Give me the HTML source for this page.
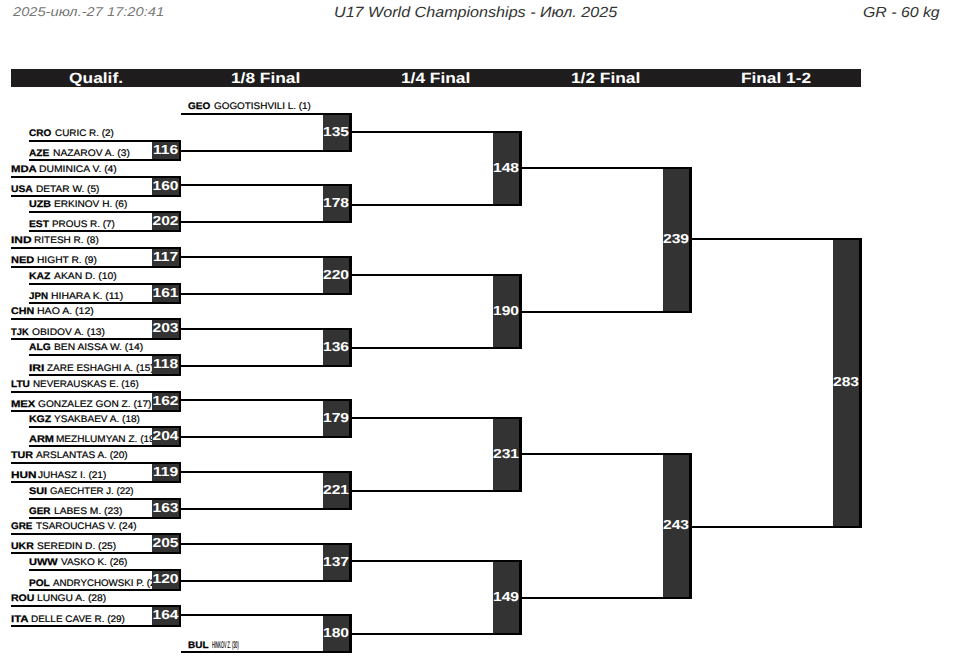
<!DOCTYPE html>
<html><head><meta charset="utf-8"><style>
html,body{margin:0;padding:0;background:#fff;}
body{width:957px;height:668px;position:relative;overflow:hidden;font-family:"Liberation Sans",sans-serif;text-rendering:geometricPrecision;}
.t{position:absolute;white-space:nowrap;font-style:italic;transform-origin:0 0;}
.bar{position:absolute;left:11px;top:69px;width:850px;height:18px;background:#1e1c1c;}
.hd{position:absolute;top:70px;height:18px;line-height:18px;color:#fff;font-weight:bold;font-size:14.8px;text-align:center;width:170px;}
.hd span{display:inline-block;transform:scaleX(1.17);}
.ln{position:absolute;height:2px;background:#000;}
.nm{position:absolute;white-space:nowrap;font-size:9.5px;line-height:14px;color:#111;transform-origin:0 0;}
.cd{font-weight:bold;color:#000;-webkit-text-stroke:0.25px #000;}
.nn{-webkit-text-stroke:0.2px #000;color:#000;}
.bx{position:absolute;background:#333;box-sizing:border-box;border-right:2px solid #000;}
.num{position:absolute;text-align:center;color:#fff;font-weight:bold;font-size:13px;line-height:16px;}
.num{transform:scaleX(1.2);}
</style></head><body>
<div class="t" style="left:13px;top:4px;font-size:12.8px;line-height:15px;color:#777;transform:scaleX(1.146)">2025-июл.-27 17:20:41</div>
<div class="t" style="left:334px;top:5px;font-size:14.8px;line-height:17px;color:#333;transform:scaleX(1.089)">U17 World Championships - Июл. 2025</div>
<div class="t" style="left:863px;top:5px;font-size:14.5px;line-height:17px;color:#333;transform:scaleX(1.094)">GR - 60 kg</div>
<div class="bar"></div>
<div class="hd" style="left:11px"><span>Qualif.</span></div>
<div class="hd" style="left:181px"><span>1/8 Final</span></div>
<div class="hd" style="left:351px"><span>1/4 Final</span></div>
<div class="hd" style="left:521px"><span>1/2 Final</span></div>
<div class="hd" style="left:691px"><span>Final 1-2</span></div>
<div class="nm cd" style="left:29px;top:127px;transform:scaleX(1.0512)">CRO</div>
<div class="nm nn" style="left:54.67px;top:127px;transform:scaleX(1.0394)">CURIC R. (2)</div>
<div class="nm cd" style="left:29px;top:147px;transform:scaleX(1.0653)">AZE</div>
<div class="nm nn" style="left:53.04px;top:147px;transform:scaleX(1.0785)">NAZAROV A. (3)</div>
<div class="nm cd" style="left:11px;top:163px;transform:scaleX(1.1909)">MDA</div>
<div class="nm nn" style="left:39.00px;top:163px;transform:scaleX(1.0889)">DUMINICA V. (4)</div>
<div class="nm cd" style="left:11px;top:183px;transform:scaleX(1.0855)">USA</div>
<div class="nm nn" style="left:36.22px;top:183px;transform:scaleX(1.0662)">DETAR W. (5)</div>
<div class="nm cd" style="left:29px;top:198px;transform:scaleX(1.1286)">UZB</div>
<div class="nm nn" style="left:54.15px;top:198px;transform:scaleX(1.0603)">ERKINOV H. (6)</div>
<div class="nm cd" style="left:29px;top:218px;transform:scaleX(1.0788)">EST</div>
<div class="nm nn" style="left:52.12px;top:218px;transform:scaleX(1.0450)">PROUS R. (7)</div>
<div class="nm cd" style="left:11px;top:234px;transform:scaleX(1.2557)">IND</div>
<div class="nm nn" style="left:33.68px;top:234px;transform:scaleX(1.0571)">RITESH R. (8)</div>
<div class="nm cd" style="left:11px;top:254px;transform:scaleX(1.1545)">NED</div>
<div class="nm nn" style="left:36.63px;top:254px;transform:scaleX(1.0748)">HIGHT R. (9)</div>
<div class="nm cd" style="left:29px;top:270px;transform:scaleX(1.0908)">KAZ</div>
<div class="nm nn" style="left:53.91px;top:270px;transform:scaleX(1.0890)">AKAN D. (10)</div>
<div class="nm cd" style="left:29px;top:290px;transform:scaleX(1.0249)">JPN</div>
<div class="nm nn" style="left:50.75px;top:290px;transform:scaleX(1.0956)">HIHARA K. (11)</div>
<div class="nm cd" style="left:11px;top:305px;transform:scaleX(1.1239)">CHN</div>
<div class="nm nn" style="left:37.18px;top:305px;transform:scaleX(1.1089)">HAO A. (12)</div>
<div class="nm cd" style="left:11px;top:326px;transform:scaleX(0.9828)">TJK</div>
<div class="nm nn" style="left:31.68px;top:326px;transform:scaleX(1.0797)">OBIDOV A. (13)</div>
<div class="nm cd" style="left:29px;top:341px;transform:scaleX(1.0804)">ALG</div>
<div class="nm nn" style="left:53.51px;top:341px;transform:scaleX(1.0812)">BEN AISSA W. (14)</div>
<div class="nm cd" style="left:29px;top:362px;transform:scaleX(1.2746)">IRI</div>
<div class="nm nn" style="left:46.69px;top:362px;transform:scaleX(1.0528)">ZARE ESHAGHI A. (15)</div>
<div class="nm cd" style="left:11px;top:378px;transform:scaleX(1.0608)">LTU</div>
<div class="nm nn" style="left:32.98px;top:378px;transform:scaleX(1.0330)">NEVERAUSKAS E. (16)</div>
<div class="nm cd" style="left:11px;top:398px;transform:scaleX(1.1837)">MEX</div>
<div class="nm nn" style="left:37.58px;top:398px;transform:scaleX(1.0697)">GONZALEZ GON Z. (17)</div>
<div class="nm cd" style="left:29px;top:413px;transform:scaleX(1.1074)">KGZ</div>
<div class="nm nn" style="left:54.35px;top:413px;transform:scaleX(1.0561)">YSAKBAEV A. (18)</div>
<div class="nm cd" style="left:29px;top:433px;transform:scaleX(1.1536)">ARM</div>
<div class="nm nn" style="left:56.43px;top:433px;transform:scaleX(1.0579)">MEZHLUMYAN Z. (19)</div>
<div class="nm cd" style="left:11px;top:449px;transform:scaleX(1.1273)">TUR</div>
<div class="nm nn" style="left:35.82px;top:449px;transform:scaleX(1.0609)">ARSLANTAS A. (20)</div>
<div class="nm cd" style="left:11px;top:469px;transform:scaleX(1.2378)">HUN</div>
<div class="nm nn" style="left:37.92px;top:469px;transform:scaleX(1.0609)">JUHASZ I. (21)</div>
<div class="nm cd" style="left:29px;top:485px;transform:scaleX(1.1433)">SUI</div>
<div class="nm nn" style="left:50.40px;top:485px;transform:scaleX(1.0148)">GAECHTER J. (22)</div>
<div class="nm cd" style="left:29px;top:505px;transform:scaleX(1.0388)">GER</div>
<div class="nm nn" style="left:53.91px;top:505px;transform:scaleX(1.0783)">LABES M. (23)</div>
<div class="nm cd" style="left:11px;top:520px;transform:scaleX(1.0388)">GRE</div>
<div class="nm nn" style="left:35.91px;top:520px;transform:scaleX(1.0436)">TSAROUCHAS V. (24)</div>
<div class="nm cd" style="left:11px;top:540px;transform:scaleX(1.1053)">UKR</div>
<div class="nm nn" style="left:36.70px;top:540px;transform:scaleX(1.0712)">SEREDIN D. (25)</div>
<div class="nm cd" style="left:29px;top:556px;transform:scaleX(1.1593)">UWW</div>
<div class="nm nn" style="left:60.98px;top:556px;transform:scaleX(1.0508)">VASKO K. (26)</div>
<div class="nm cd" style="left:29px;top:577px;transform:scaleX(1.0646)">POL</div>
<div class="nm nn" style="left:53.40px;top:577px;transform:scaleX(1.0251)">ANDRYCHOWSKI P. (27)</div>
<div class="nm cd" style="left:11px;top:592px;transform:scaleX(1.1098)">ROU</div>
<div class="nm nn" style="left:37.41px;top:592px;transform:scaleX(1.0829)">LUNGU A. (28)</div>
<div class="nm cd" style="left:11px;top:613px;transform:scaleX(1.2053)">ITA</div>
<div class="nm nn" style="left:30.94px;top:613px;transform:scaleX(1.0478)">DELLE CAVE R. (29)</div>
<div class="nm cd" style="left:188px;top:100px;transform:scaleX(1.0513)">GEO</div>
<div class="nm nn" style="left:213.67px;top:100px;transform:scaleX(1.0426)">GOGOTISHVILI L. (1)</div>
<div class="nm cd" style="left:188px;top:639px;transform:scaleX(1.0504)">BUL</div>
<div class="nm nn" style="left:212.31px;top:639px;transform:scaleX(0.3976)">HINKOV Z. (30)</div>
<div class="bx" style="left:152px;top:140px;width:29px;height:21px;border-right-width:2px"></div>
<div class="num" style="left:151px;top:141.7px;width:29px">116</div>
<div class="bx" style="left:152px;top:176px;width:29px;height:21px;border-right-width:2px"></div>
<div class="num" style="left:151px;top:177.7px;width:29px">160</div>
<div class="bx" style="left:152px;top:211px;width:29px;height:21px;border-right-width:2px"></div>
<div class="num" style="left:151px;top:212.7px;width:29px">202</div>
<div class="bx" style="left:152px;top:247px;width:29px;height:21px;border-right-width:2px"></div>
<div class="num" style="left:151px;top:248.7px;width:29px">117</div>
<div class="bx" style="left:152px;top:283px;width:29px;height:21px;border-right-width:2px"></div>
<div class="num" style="left:151px;top:284.7px;width:29px">161</div>
<div class="bx" style="left:152px;top:318px;width:29px;height:22px;border-right-width:2px"></div>
<div class="num" style="left:151px;top:320.2px;width:29px">203</div>
<div class="bx" style="left:152px;top:354px;width:29px;height:22px;border-right-width:2px"></div>
<div class="num" style="left:151px;top:356.2px;width:29px">118</div>
<div class="bx" style="left:152px;top:391px;width:29px;height:21px;border-right-width:2px"></div>
<div class="num" style="left:151px;top:392.7px;width:29px">162</div>
<div class="bx" style="left:152px;top:426px;width:29px;height:21px;border-right-width:2px"></div>
<div class="num" style="left:151px;top:427.7px;width:29px">204</div>
<div class="bx" style="left:152px;top:462px;width:29px;height:21px;border-right-width:2px"></div>
<div class="num" style="left:151px;top:463.7px;width:29px">119</div>
<div class="bx" style="left:152px;top:498px;width:29px;height:21px;border-right-width:2px"></div>
<div class="num" style="left:151px;top:499.7px;width:29px">163</div>
<div class="bx" style="left:152px;top:533px;width:29px;height:21px;border-right-width:2px"></div>
<div class="num" style="left:151px;top:534.7px;width:29px">205</div>
<div class="bx" style="left:152px;top:569px;width:29px;height:22px;border-right-width:2px"></div>
<div class="num" style="left:151px;top:571.2px;width:29px">120</div>
<div class="bx" style="left:152px;top:605px;width:29px;height:22px;border-right-width:2px"></div>
<div class="num" style="left:151px;top:607.2px;width:29px">164</div>
<div class="bx" style="left:323px;top:113px;width:29px;height:39px;border-right-width:3px"></div>
<div class="num" style="left:322px;top:123.7px;width:28px">135</div>
<div class="bx" style="left:323px;top:184px;width:29px;height:39px;border-right-width:3px"></div>
<div class="num" style="left:322px;top:194.7px;width:28px">178</div>
<div class="bx" style="left:323px;top:256px;width:29px;height:39px;border-right-width:3px"></div>
<div class="num" style="left:322px;top:266.7px;width:28px">220</div>
<div class="bx" style="left:323px;top:328px;width:29px;height:39px;border-right-width:3px"></div>
<div class="num" style="left:322px;top:338.7px;width:28px">136</div>
<div class="bx" style="left:323px;top:399px;width:29px;height:39px;border-right-width:3px"></div>
<div class="num" style="left:322px;top:409.7px;width:28px">179</div>
<div class="bx" style="left:323px;top:471px;width:29px;height:39px;border-right-width:3px"></div>
<div class="num" style="left:322px;top:481.7px;width:28px">221</div>
<div class="bx" style="left:323px;top:543px;width:29px;height:39px;border-right-width:3px"></div>
<div class="num" style="left:322px;top:553.7px;width:28px">137</div>
<div class="bx" style="left:323px;top:614px;width:29px;height:39px;border-right-width:3px"></div>
<div class="num" style="left:322px;top:624.7px;width:28px">180</div>
<div class="bx" style="left:493px;top:131px;width:29px;height:75px;border-right-width:3px"></div>
<div class="num" style="left:492px;top:159.7px;width:28px">148</div>
<div class="bx" style="left:493px;top:274px;width:29px;height:75px;border-right-width:3px"></div>
<div class="num" style="left:492px;top:302.7px;width:28px">190</div>
<div class="bx" style="left:493px;top:417px;width:29px;height:75px;border-right-width:3px"></div>
<div class="num" style="left:492px;top:445.7px;width:28px">231</div>
<div class="bx" style="left:493px;top:560px;width:29px;height:75px;border-right-width:3px"></div>
<div class="num" style="left:492px;top:588.7px;width:28px">149</div>
<div class="bx" style="left:663px;top:167px;width:29px;height:146px;border-right-width:3px"></div>
<div class="num" style="left:662px;top:231.2px;width:28px">239</div>
<div class="bx" style="left:663px;top:453px;width:29px;height:146px;border-right-width:3px"></div>
<div class="num" style="left:662px;top:517.2px;width:28px">243</div>
<div class="bx" style="left:833px;top:238px;width:29px;height:290px;border-right-width:3px"></div>
<div class="num" style="left:832px;top:374.2px;width:28px">283</div>
<div class="ln" style="left:29px;top:140px;width:152px"></div>
<div class="ln" style="left:29px;top:159px;width:152px"></div>
<div class="ln" style="left:11px;top:176px;width:170px"></div>
<div class="ln" style="left:11px;top:195px;width:170px"></div>
<div class="ln" style="left:29px;top:211px;width:152px"></div>
<div class="ln" style="left:29px;top:230px;width:152px"></div>
<div class="ln" style="left:11px;top:247px;width:170px"></div>
<div class="ln" style="left:11px;top:266px;width:170px"></div>
<div class="ln" style="left:29px;top:283px;width:152px"></div>
<div class="ln" style="left:29px;top:302px;width:152px"></div>
<div class="ln" style="left:11px;top:318px;width:170px"></div>
<div class="ln" style="left:11px;top:338px;width:170px"></div>
<div class="ln" style="left:29px;top:354px;width:152px"></div>
<div class="ln" style="left:29px;top:374px;width:152px"></div>
<div class="ln" style="left:11px;top:391px;width:170px"></div>
<div class="ln" style="left:11px;top:410px;width:170px"></div>
<div class="ln" style="left:29px;top:426px;width:152px"></div>
<div class="ln" style="left:29px;top:445px;width:152px"></div>
<div class="ln" style="left:11px;top:462px;width:170px"></div>
<div class="ln" style="left:11px;top:481px;width:170px"></div>
<div class="ln" style="left:29px;top:498px;width:152px"></div>
<div class="ln" style="left:29px;top:517px;width:152px"></div>
<div class="ln" style="left:11px;top:533px;width:170px"></div>
<div class="ln" style="left:11px;top:552px;width:170px"></div>
<div class="ln" style="left:29px;top:569px;width:152px"></div>
<div class="ln" style="left:29px;top:589px;width:152px"></div>
<div class="ln" style="left:11px;top:605px;width:170px"></div>
<div class="ln" style="left:11px;top:625px;width:170px"></div>
<div class="ln" style="left:181px;top:113px;width:170px"></div>
<div class="ln" style="left:181px;top:150px;width:170px"></div>
<div class="ln" style="left:181px;top:184px;width:170px"></div>
<div class="ln" style="left:181px;top:221px;width:170px"></div>
<div class="ln" style="left:181px;top:256px;width:170px"></div>
<div class="ln" style="left:181px;top:293px;width:170px"></div>
<div class="ln" style="left:181px;top:328px;width:170px"></div>
<div class="ln" style="left:181px;top:365px;width:170px"></div>
<div class="ln" style="left:181px;top:399px;width:170px"></div>
<div class="ln" style="left:181px;top:436px;width:170px"></div>
<div class="ln" style="left:181px;top:471px;width:170px"></div>
<div class="ln" style="left:181px;top:508px;width:170px"></div>
<div class="ln" style="left:181px;top:543px;width:170px"></div>
<div class="ln" style="left:181px;top:580px;width:170px"></div>
<div class="ln" style="left:181px;top:614px;width:170px"></div>
<div class="ln" style="left:181px;top:651px;width:170px"></div>
<div class="ln" style="left:351px;top:131px;width:170px"></div>
<div class="ln" style="left:351px;top:204px;width:170px"></div>
<div class="ln" style="left:351px;top:274px;width:170px"></div>
<div class="ln" style="left:351px;top:347px;width:170px"></div>
<div class="ln" style="left:351px;top:417px;width:170px"></div>
<div class="ln" style="left:351px;top:490px;width:170px"></div>
<div class="ln" style="left:351px;top:560px;width:170px"></div>
<div class="ln" style="left:351px;top:633px;width:170px"></div>
<div class="ln" style="left:521px;top:167px;width:170px"></div>
<div class="ln" style="left:521px;top:311px;width:170px"></div>
<div class="ln" style="left:521px;top:453px;width:170px"></div>
<div class="ln" style="left:521px;top:597px;width:170px"></div>
<div class="ln" style="left:691px;top:238px;width:170px"></div>
<div class="ln" style="left:691px;top:526px;width:170px"></div>
</body></html>
